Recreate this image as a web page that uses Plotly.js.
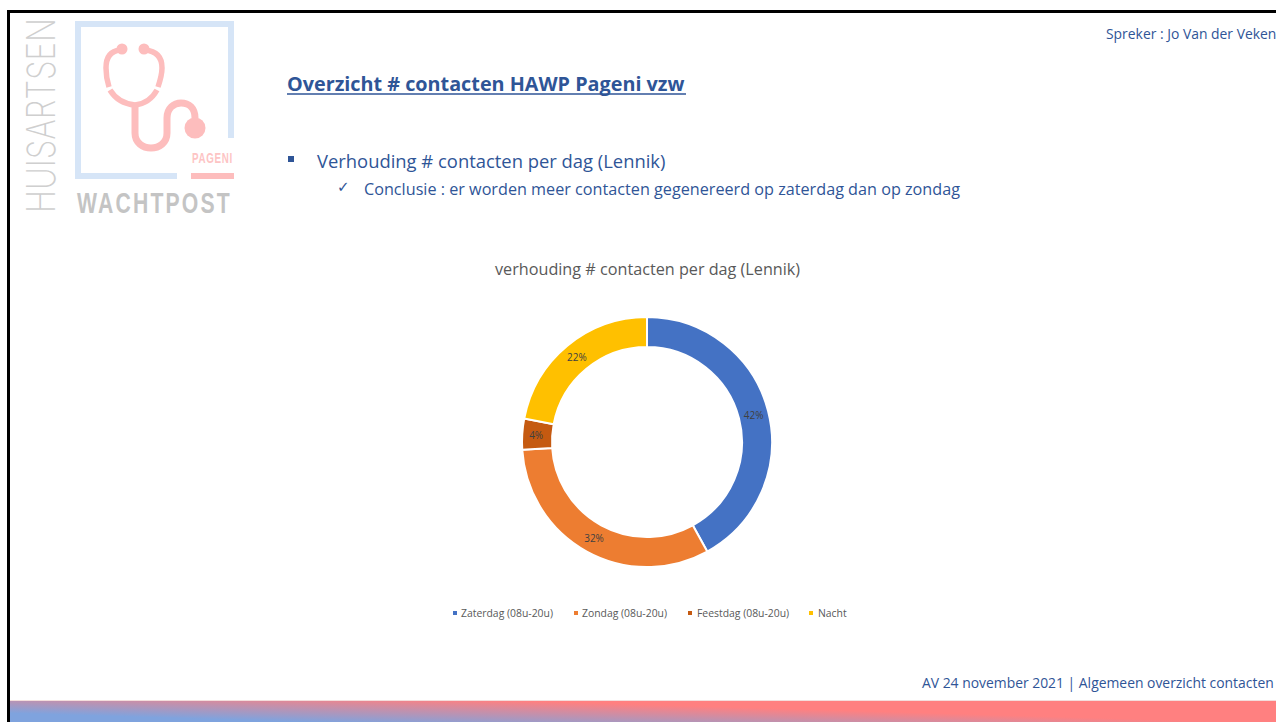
<!DOCTYPE html>
<html><head><meta charset="utf-8">
<script src="https://cdn.plot.ly/plotly-3.0.1.min.js"></script>
<style>
html,body{margin:0;padding:0;background:#fff;width:1276px;height:722px;overflow:hidden}
#frame{position:absolute;left:7px;top:10px;width:1269px;height:712px;border-left:3px solid #000;border-top:3px solid #000;box-sizing:border-box}
#band{position:absolute;left:10px;top:701px;width:1266px;height:21px;box-shadow:0 -1px 0 #F3DEDC;background:linear-gradient(1.7deg,#7FA3DE 0%,#7FA3DE 15%,#FF8080 62%,#FF8080 100%)}
#logo{position:absolute;left:0;top:0}
#chart{position:absolute;left:0;top:0;width:1276px;height:722px}
</style></head><body>
<div id="frame"></div><div id="band"></div>
<svg id="logo" width="1276" height="722" viewBox="0 0 1276 722">
 <path d="M177 176 H78 V24 H231 V138" fill="none" stroke="#D6E5F7" stroke-width="6"/>
 <g fill="none" stroke="#FDBDBD" stroke-width="5.5">
  <path d="M120 50 C110 51 106 58 106 68 C106 75 107 81 109 87"/>
  <path d="M145 50 C157 51 162 58 162 68 C162 75 160 81 158 87"/>
  <path d="M110 90 C116 100 125 104 135 105 C145 104 152 99 157 90"/>
 </g>
 <path d="M135 104 V133 C135 153 167 153 167 133 V118 C167 108 174 103 181 103 C189 103 195 108 195 118" fill="none" stroke="#FDBDBD" stroke-width="7"/>
 <g fill="#FDBDBD">
  <circle cx="122" cy="49" r="5.5"/><circle cx="144" cy="49" r="5.5"/>
  <circle cx="195" cy="128" r="10.5"/>
  <rect x="191" y="173" width="43" height="6"/>
 </g>
 <text class="fit" data-len="41" data-at="translate(192,163)" font-family="Liberation Sans" font-weight="700" font-size="14" fill="#FDC4C4" style="letter-spacing:1px">PAGENI</text>
 <text class="fit" data-len="155" data-at="translate(77,213)" font-family="Liberation Sans" font-weight="700" font-size="29" fill="#C4C4C4" style="letter-spacing:3px">WACHTPOST</text>
 <text class="fit" data-len="195" data-at="translate(55,213) rotate(-90)" font-family="Inter" font-weight="200" font-size="39" fill="#CFCFCF">HUISARTSEN</text>
</svg>
<div id="chart"></div>
<script>
var categories=["Zaterdag (08u-20u)","Zondag (08u-20u)","Feestdag (08u-20u)","Nacht"];
var shares=[42,32,4,22];
var colors=["#4472C4","#ED7D31","#C55A11","#FFC000"];
var legendTextX=[460,581,696,817];
var legendSwatchX=[453,574,688,809];
var W=1276,H=722;
function X(p){return p/W;}
function Y(p){return 1-p/H;}
var blue="#2F5597",face="Open Sans";
function note(text,x,y,size,color,extra){
  return Object.assign({text:text,x:X(x),y:Y(y),xref:"paper",yref:"paper",xanchor:"left",yanchor:"middle",showarrow:false,
    font:{family:face,size:size,color:color},borderpad:0},extra||{});
}
var annotations=[
  note("Spreker : Jo Van der Veken",1105,33,13.9,blue,{xanchor:"left"}),
  note("<b>Overzicht # contacten HAWP Pageni vzw</b>",286,83,19.8,blue),
  note("Verhouding # contacten per dag (Lennik)",316,160,18.4,blue),
  note("✓",336,187,15,blue,{font:{family:"DejaVu Sans",size:15,color:blue}}),
  note("Conclusie : er worden meer contacten gegenereerd op zaterdag dan op zondag",363,189,16.2,blue),
  note("verhouding # contacten per dag (Lennik)",647,269,16.2,"#595959",{xanchor:"center"}),
  note("AV 24 november 2021 | Algemeen overzicht contacten",921,682,13.9,blue)
];
var shapes=[
  {type:"line",xref:"paper",yref:"paper",x0:X(287),x1:X(686),y0:Y(94),y1:Y(94),line:{color:blue,width:1.5}},
  {type:"rect",xref:"paper",yref:"paper",x0:X(288),x1:X(294),y0:Y(162),y1:Y(156),fillcolor:blue,line:{width:0}}
];
categories.forEach(function(c,i){
  annotations.push(note(c,legendTextX[i],613,10.4,"#595959"));
  shapes.push({type:"rect",xref:"paper",yref:"paper",x0:X(legendSwatchX[i]),x1:X(legendSwatchX[i]+4),y0:Y(615),y1:Y(611),fillcolor:colors[i],line:{width:0}});
});
Plotly.newPlot("chart",[{
  type:"pie",labels:categories,values:shares,sort:false,direction:"clockwise",rotation:0,hole:0.76,
  marker:{colors:colors,line:{color:"#fff",width:2}},
  textinfo:"percent",textposition:"inside",insidetextorientation:"horizontal",
  textfont:{family:face,size:10,color:"#404040"},
  domain:{x:[X(522),X(772)],y:[Y(567),Y(317)]},
  showlegend:false,hoverinfo:"label+percent"
}],{
  width:W,height:H,margin:{l:0,r:0,t:0,b:0},paper_bgcolor:"rgba(0,0,0,0)",plot_bgcolor:"rgba(0,0,0,0)",
  showlegend:false,annotations:annotations,shapes:shapes
},{displayModeBar:false,staticPlot:true});
function fitLogo(){
  document.querySelectorAll("text.fit").forEach(function(t){
    var s=parseFloat(t.dataset.len)/t.getComputedTextLength();
    t.setAttribute("transform",t.dataset.at+" scale("+s+",1)");
  });
}
fitLogo();
</script></body></html>
